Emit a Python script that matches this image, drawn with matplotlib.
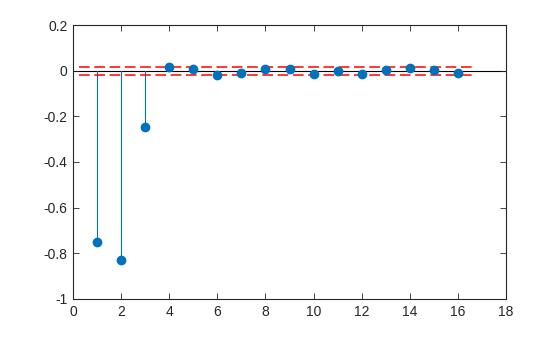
import matplotlib
matplotlib.use("Agg")
import matplotlib.pyplot as plt
import numpy as np

plt.rcParams['font.family'] = ['Liberation Sans', 'DejaVu Sans']

lags = [1, 2, 3, 4, 5, 6, 7, 8, 9, 10, 11, 12, 13, 14, 15, 16]
values = [-0.752, -0.830, -0.247, 0.015, 0.006, -0.020, -0.009, 0.006, 0.006,
          -0.013, -0.003, -0.013, 0.002, 0.012, 0.002, -0.012]
bound = 0.017
bound_x = [0.25, 16.67]
xticks = [0, 2, 4, 6, 8, 10, 12, 14, 16, 18]
yticks = [-1, -0.8, -0.6, -0.4, -0.2, 0, 0.2]
ytick_labels = ['-1', '-0.8', '-0.6', '-0.4', '-0.2', '0', '0.2']

blue = (0.0, 0.447, 0.741)

fig = plt.figure(figsize=(5.6, 3.37), dpi=100)
ax = fig.add_axes([0.1304, 0.1128, 0.7732, 0.813])

ax.axhline(0, color='black', lw=0.8, zorder=1)
for x, v in zip(lags, values):
    ax.plot([x, x], [0, v], color=blue, lw=0.8, zorder=2)
ax.plot(lags, values, 'o', color=blue, markersize=6, zorder=3)

ax.plot(bound_x, [bound, bound], color='#ff0000', lw=1.1, dashes=(7, 3), zorder=2)
ax.plot(bound_x, [-bound, -bound], color='#ff0000', lw=1.1, dashes=(7, 3), zorder=2)

ax.set_xlim(0, 18)
ax.set_ylim(-1, 0.2)
ax.set_xticks(xticks)
ax.set_yticks(yticks)
ax.set_yticklabels(ytick_labels)
ax.tick_params(direction='in', top=True, right=True, length=4, width=0.6,
               labelsize=10, colors='#262626', pad=4)
for s in ax.spines.values():
    s.set_linewidth(0.8)
    s.set_color('#262626')

fig.savefig('out.png', dpi=100)
